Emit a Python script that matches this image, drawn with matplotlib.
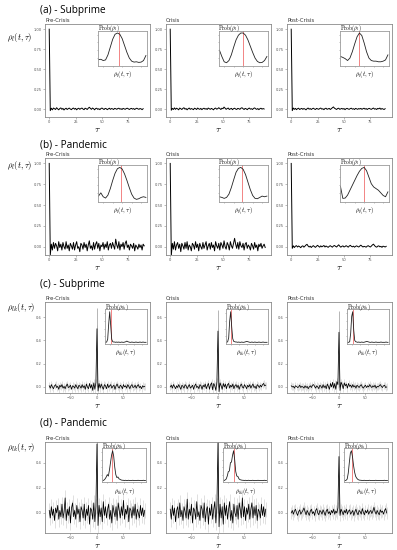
import numpy as np
import matplotlib.pyplot as plt

plt.rcParams["mathtext.fontset"] = "cm"
plt.rcParams["font.family"] = ["DejaVu Sans"]

# === Data: autocorrelation (rows a, b), lags 0..90 ===
a_pre = [1.00, -0.02, 0.01, -0.01, 0.012, 0.004, -0.006, 0.016, 0.002, -0.01, 0.006, 0.014, -0.004, 0.008,
         -0.012, 0.002, 0.01, -0.006, 0.004, 0.012, 0.0, -0.008, 0.006, 0.012, -0.002, 0.008, -0.01, 0.004,
         0.01, -0.004, 0.006, 0.012, 0.0, -0.008, 0.01, 0.004, -0.006, 0.01, 0.022, 0.008, -0.004, 0.012,
         0.004, -0.01, 0.006, 0.01, -0.004, 0.004, -0.008, 0.006, 0.012, 0.002, -0.006, 0.008, 0.004, -0.008,
         0.002, 0.01, -0.004, 0.006, 0.002, -0.006, 0.008, 0.004, -0.004, 0.006, 0.01, -0.002, 0.004, -0.006,
         0.008, 0.002, -0.004, 0.006, 0.01, 0.002, -0.006, 0.004, 0.008, -0.002, 0.006, -0.006, 0.004, 0.01,
         0.002, -0.004, 0.006, 0.002, -0.008, 0.004]
a_cri = [1.00, -0.015, 0.008, -0.006, 0.014, -0.004, 0.01, 0.002, -0.01, 0.012, 0.004, -0.006, 0.008, 0.016,
         -0.002, 0.006, -0.01, 0.004, 0.012, -0.004, 0.006, 0.0, -0.008, 0.01, 0.004, -0.006, 0.012, 0.002,
         -0.004, 0.008, -0.008, 0.004, 0.01, -0.002, 0.006, -0.006, 0.012, 0.004, -0.004, 0.008, 0.0, -0.01,
         0.006, 0.012, -0.002, 0.004, 0.016, 0.006, -0.006, 0.01, 0.004, 0.024, 0.01, -0.004, 0.006, 0.012,
         -0.006, 0.002, 0.008, -0.008, 0.004, 0.01, 0.0, -0.006, 0.008, 0.004, -0.004, 0.01, 0.016, 0.004,
         -0.006, 0.008, 0.002, -0.008, 0.006, 0.012, -0.002, 0.004, -0.006, 0.008, 0.014, 0.002, -0.004, 0.006,
         -0.008, 0.004, 0.01, -0.002, 0.006, 0.0]
a_post = [1.00, -0.02, 0.012, -0.004, 0.008, -0.008, 0.004, 0.01, -0.006, 0.002, 0.008, -0.004, 0.006, 0.0,
          -0.01, 0.004, 0.012, -0.002, 0.006, -0.006, 0.004, 0.01, 0.0, -0.006, 0.008, 0.002, -0.004, 0.006,
          0.012, -0.002, 0.004, -0.008, 0.006, 0.01, -0.004, 0.002, 0.008, -0.006, 0.004, 0.016, 0.026, 0.01,
          0.002, -0.006, 0.006, 0.01, -0.004, 0.002, 0.008, -0.002, 0.006, -0.008, 0.004, 0.008, 0.0, -0.004,
          0.006, 0.01, -0.002, 0.004, -0.006, 0.008, 0.002, -0.004, 0.006, 0.0, 0.008, -0.004, 0.004, 0.01,
          -0.002, 0.006, -0.006, 0.004, 0.008, 0.0, -0.004, 0.006, 0.012, -0.002, 0.004, -0.006, 0.008, 0.002,
          0.012, -0.004, 0.006, 0.0, -0.006, 0.004]
b_pre = [1.00, -0.10, 0.03, -0.04, 0.05, -0.02, 0.04, 0.01, -0.05, 0.06, -0.01, 0.03, -0.04, 0.05, 0.0, -0.03,
         0.06, -0.02, 0.02, -0.05, 0.04, 0.01, -0.03, 0.05, -0.04, 0.02, 0.06, -0.02, 0.0, -0.06, 0.04, 0.02,
         -0.03, 0.05, -0.01, 0.03, -0.05, 0.02, 0.07, -0.02, 0.01, -0.04, 0.05, -0.03, 0.03, 0.06, -0.02, 0.04,
         -0.05, 0.02, 0.0, 0.05, -0.03, 0.03, -0.01, 0.06, -0.04, 0.02, 0.04, -0.02, 0.05, 0.01, -0.03, 0.09,
         0.02, -0.02, 0.06, -0.04, 0.03, 0.0, 0.05, -0.03, 0.04, 0.07, -0.01, 0.02, -0.04, 0.03, 0.01, -0.02,
         0.04, -0.05, 0.02, 0.0, -0.03, 0.03, -0.01, 0.02, -0.04, 0.03, 0.01]
b_cri = [1.00, -0.11, 0.04, -0.03, 0.06, -0.04, 0.02, 0.05, -0.02, 0.03, -0.06, 0.04, 0.01, -0.03, 0.05, -0.02,
         0.06, -0.04, 0.02, 0.0, -0.05, 0.04, 0.02, -0.03, 0.06, -0.01, 0.03, -0.05, 0.04, 0.0, -0.03, 0.05,
         -0.02, 0.02, 0.06, -0.04, 0.01, 0.04, -0.03, 0.05, -0.01, 0.02, -0.05, 0.06, 0.01, -0.02, 0.04, -0.04,
         0.05, 0.02, -0.02, 0.07, 0.0, -0.03, 0.05, 0.02, -0.04, 0.06, 0.01, -0.02, 0.04, 0.10, 0.03, -0.02,
         0.05, -0.03, 0.06, 0.01, -0.01, 0.04, -0.04, 0.03, 0.05, -0.02, 0.02, 0.0, -0.04, 0.04, 0.01, -0.03,
         0.05, -0.01, 0.02, -0.05, 0.03, 0.0, 0.04, -0.02, 0.01, 0.03, -0.01]
b_post = [1.00, -0.02, 0.01, -0.01, 0.006, 0.012, -0.004, 0.008, 0.0, -0.012, 0.004, 0.01, -0.006, 0.006, 0.02,
          0.028, 0.008, -0.004, 0.006, -0.01, 0.004, 0.012, 0.0, -0.008, 0.006, 0.016, 0.004, -0.006, 0.01,
          -0.002, 0.006, 0.014, -0.004, 0.008, 0.0, -0.008, 0.004, 0.012, 0.002, -0.006, 0.008, 0.014, 0.004,
          -0.004, 0.01, 0.022, 0.006, -0.006, 0.004, 0.01, -0.004, 0.002, 0.012, 0.004, -0.006, 0.008, 0.016,
          0.004, -0.002, 0.006, -0.006, 0.004, 0.01, 0.002, -0.004, 0.008, 0.018, 0.006, -0.004, 0.004, 0.0,
          -0.006, 0.006, 0.012, 0.002, -0.004, 0.008, 0.022, 0.03, 0.012, 0.0, -0.006, 0.006, 0.01, -0.002,
          0.004, -0.008, 0.006, 0.002, -0.004, 0.004]

# === Data: cross-correlation (rows c, d), lags +-2..90 step 2, plus lag 0 ===
c_pre_neg = [0.01, -0.01, 0.02, 0.0, -0.015, 0.01, 0.02, -0.005, 0.005, -0.02, 0.015, 0.0, 0.02, -0.01, 0.005,
             -0.015, 0.01, 0.025, -0.005, 0.0, 0.015, -0.02, 0.01, 0.005, -0.01, 0.02, 0.0, -0.015, 0.015, 0.005,
             -0.01, 0.02, -0.005, 0.01, -0.02, 0.025, 0.0, -0.015, 0.03, -0.01, 0.02, -0.03, 0.035, -0.02, 0.04]
c_pre_zero = 0.50
c_pre_pos = [-0.035, 0.03, -0.01, 0.025, 0.0, -0.02, 0.02, 0.01, -0.015, 0.025, -0.005, 0.01, 0.02, -0.01, 0.005,
             0.015, -0.02, 0.01, 0.025, 0.0, -0.01, 0.015, 0.005, -0.015, 0.02, 0.0, 0.01, -0.01, 0.02, 0.005,
             -0.015, 0.01, 0.02, -0.005, 0.0, 0.015, -0.01, 0.01, 0.02, -0.005, 0.005, -0.015, 0.01, 0.0, 0.005]
c_cri_neg = [0.0, 0.015, -0.01, 0.02, 0.005, -0.015, 0.01, -0.005, 0.02, 0.0, -0.02, 0.015, 0.005, -0.01, 0.02,
             0.01, -0.015, 0.005, 0.02, -0.01, 0.0, 0.015, -0.02, 0.01, 0.025, -0.005, 0.005, -0.015, 0.02, 0.01,
             -0.02, 0.015, 0.0, 0.025, -0.015, 0.01, 0.03, -0.02, 0.02, 0.035, -0.025, 0.03, 0.01, -0.03, 0.045]
c_cri_zero = 0.48
c_cri_pos = [-0.04, 0.035, 0.01, -0.02, 0.03, 0.0, 0.025, -0.015, 0.02, 0.03, -0.01, 0.015, 0.0, 0.025, -0.015,
             0.01, 0.02, -0.005, 0.015, -0.02, 0.01, 0.025, 0.0, -0.01, 0.02, 0.005, -0.015, 0.015, 0.0, 0.02,
             -0.01, 0.01, 0.025, -0.005, 0.005, -0.015, 0.02, 0.01, -0.005, 0.015, 0.0, 0.02, 0.03, 0.01, 0.015]
c_post_neg = [0.01, 0.0, 0.005, -0.01, 0.01, 0.005, -0.005, 0.0, 0.015, -0.005, 0.005, 0.0, -0.01, 0.01, -0.005,
              0.005, -0.015, 0.0, 0.01, -0.005, 0.015, 0.02, 0.005, -0.01, 0.01, 0.0, -0.015, 0.015, 0.005, -0.01,
              0.02, -0.005, 0.01, -0.015, 0.025, 0.005, -0.02, 0.03, 0.0, 0.04, -0.01, 0.03, -0.02, 0.045, 0.02]
c_post_zero = 0.47
c_post_pos = [-0.03, 0.04, 0.02, -0.015, 0.035, 0.01, 0.025, -0.01, 0.03, 0.005, 0.015, -0.005, 0.02, 0.0, 0.01,
              -0.01, 0.015, 0.005, -0.005, 0.01, 0.02, 0.0, -0.01, 0.005, 0.015, -0.005, 0.01, 0.0, 0.02, 0.005,
              -0.005, 0.01, 0.0, 0.015, -0.01, 0.005, 0.0, 0.01, 0.02, 0.005, -0.005, 0.01, 0.015, -0.005, 0.0]
d_pre_neg = [0.02, -0.04, 0.05, -0.02, 0.03, -0.06, 0.04, 0.0, 0.06, -0.05, 0.02, -0.03, 0.07, -0.04, 0.01,
             0.12, -0.06, 0.03, -0.02, 0.05, -0.08, 0.04, 0.08, -0.03, 0.02, -0.05, 0.06, -0.01, 0.03, -0.07,
             0.05, 0.02, -0.04, 0.07, -0.06, 0.03, -0.02, 0.06, -0.09, 0.04, 0.02, -0.05, 0.08, -0.07, 0.05]
d_pre_zero = 0.55
d_pre_pos = [-0.10, 0.06, -0.03, 0.04, -0.07, 0.09, -0.02, 0.05, -0.04, 0.03, 0.07, -0.05, 0.02, -0.08, 0.06,
             0.01, -0.03, 0.05, -0.06, 0.08, 0.02, -0.04, 0.05, -0.02, 0.1, -0.05, 0.03, -0.01, 0.06, -0.07,
             0.04, 0.02, -0.04, 0.05, -0.02, 0.07, -0.05, 0.03, 0.0, -0.04, 0.06, -0.02, 0.04, -0.03, 0.02]
d_cri_neg = [0.03, -0.05, 0.06, -0.02, 0.04, -0.07, 0.02, 0.05, -0.04, 0.08, -0.03, 0.02, -0.06, 0.05, 0.01,
             -0.04, 0.11, -0.05, 0.03, -0.02, 0.07, -0.08, 0.04, 0.02, -0.05, 0.09, -0.03, 0.01, -0.06, 0.06,
             0.03, -0.04, 0.08, -0.07, 0.02, 0.05, -0.09, 0.04, -0.02, 0.07, -0.05, 0.03, 0.09, -0.08, 0.06]
d_cri_zero = 0.56
d_cri_pos = [-0.11, 0.07, -0.04, 0.05, -0.09, 0.08, -0.02, 0.06, -0.05, 0.03, 0.09, -0.06, 0.02, -0.08, 0.07,
             0.0, -0.03, 0.06, -0.05, 0.08, 0.03, -0.04, 0.12, -0.03, 0.05, -0.06, 0.04, -0.01, 0.07, -0.05,
             0.03, 0.08, -0.04, 0.05, -0.02, 0.06, -0.06, 0.03, 0.01, -0.04, 0.07, -0.02, 0.05, -0.03, 0.03]
d_post_neg = [0.0, 0.02, -0.01, 0.015, 0.03, 0.0, -0.02, 0.01, 0.025, -0.01, 0.005, 0.02, 0.04, 0.01, -0.015,
              0.02, 0.0, -0.02, 0.015, 0.03, -0.005, 0.01, -0.02, 0.02, 0.035, 0.0, -0.015, 0.02, 0.01, -0.01,
              0.025, 0.005, -0.02, 0.015, 0.03, -0.005, 0.01, -0.015, 0.02, 0.0, 0.03, -0.01, 0.015, 0.0, 0.04]
d_post_zero = 0.45
d_post_pos = [-0.02, 0.03, 0.01, -0.015, 0.02, 0.0, 0.03, -0.01, 0.015, 0.025, -0.01, 0.005, 0.02, -0.02, 0.01,
              0.03, 0.0, -0.015, 0.02, 0.01, -0.01, 0.035, 0.005, -0.015, 0.02, 0.0, 0.025, -0.01, 0.01, 0.02,
              -0.005, 0.015, 0.045, 0.01, -0.01, 0.02, 0.0, -0.015, 0.025, 0.005, 0.015, -0.01, 0.02, 0.035, 0.0]
cd_err = [0.03, 0.03, 0.03, 0.06, 0.06, 0.045]

# === Data: inset densities (normalised x from 0 to 1) ===
a_pre_den = [0.15, 0.16, 0.12, 0.14, 0.3, 0.55, 0.8, 0.96, 1.0, 0.96, 0.82, 0.6, 0.38, 0.2, 0.1, 0.07, 0.08,
             0.06, 0.07, 0.12, 0.28]
a_cri_den = [0.45, 0.25, 0.08, 0.05, 0.12, 0.3, 0.55, 0.78, 0.93, 1.0, 1.0, 0.93, 0.78, 0.58, 0.38, 0.2, 0.09,
             0.05, 0.06, 0.12, 0.25]
a_post_den = [0.25, 0.22, 0.18, 0.12, 0.2, 0.4, 0.65, 0.88, 1.0, 0.92, 0.68, 0.4, 0.2, 0.12, 0.1, 0.1, 0.08,
              0.08, 0.1, 0.14, 0.3]
b_pre_den = [0.12, 0.22, 0.1, 0.06, 0.15, 0.35, 0.6, 0.82, 0.96, 1.0, 0.95, 0.8, 0.6, 0.38, 0.18, 0.06, 0.02,
             0.04, 0.08, 0.1, 0.08]
b_cri_den = [0.1, 0.08, 0.05, 0.08, 0.18, 0.38, 0.62, 0.85, 0.97, 1.0, 0.94, 0.78, 0.55, 0.32, 0.14, 0.05, 0.04,
             0.08, 0.12, 0.1, 0.12]
b_post_den = [0.42, 0.05, 0.06, 0.15, 0.3, 0.45, 0.6, 0.75, 0.88, 0.97, 1.0, 0.9, 0.7, 0.5, 0.4, 0.35, 0.3,
              0.22, 0.14, 0.1, 0.25]
c_pre_den = [0.0, 0.01, 0.1, 0.6, 1.0, 0.55, 0.1, 0.02, 0.01, 0.01, 0.0, 0.01, 0.0, 0.01, 0.0, 0.0, 0.01, 0.0,
             0.0, 0.01, 0.02, 0.04, 0.02, 0.01, 0.0, 0.0, 0.01, 0.0, 0.0, 0.0, 0.01, 0.0, 0.0, 0.0, 0.01, 0.0,
             0.0, 0.01, 0.0, 0.0, 0.0]
c_cri_den = [0.0, 0.02, 0.15, 0.7, 1.0, 0.5, 0.12, 0.03, 0.02, 0.01, 0.01, 0.0, 0.01, 0.0, 0.0, 0.01, 0.0, 0.0,
             0.01, 0.02, 0.03, 0.02, 0.01, 0.0, 0.0, 0.01, 0.0, 0.0, 0.01, 0.0, 0.0, 0.0, 0.01, 0.0, 0.0, 0.0,
             0.01, 0.0, 0.0, 0.0, 0.0]
c_post_den = [0.0, 0.0, 0.02, 0.3, 0.85, 1.0, 0.4, 0.06, 0.02, 0.01, 0.0, 0.01, 0.0, 0.0, 0.01, 0.0, 0.0, 0.01,
              0.02, 0.03, 0.02, 0.01, 0.0, 0.0, 0.01, 0.0, 0.0, 0.0, 0.01, 0.0, 0.0, 0.0, 0.0, 0.01, 0.0, 0.0,
              0.0, 0.0, 0.01, 0.0, 0.0]
d_pre_den = [0.0, 0.02, 0.06, 0.12, 0.2, 0.15, 0.35, 0.6, 0.85, 1.0, 0.82, 0.45, 0.2, 0.1, 0.12, 0.06, 0.04, 0.02,
             0.01, 0.01, 0.0, 0.01, 0.0, 0.0, 0.01, 0.0, 0.0, 0.0, 0.01, 0.0, 0.0, 0.0, 0.0, 0.01, 0.0, 0.0, 0.0,
             0.0, 0.01, 0.0, 0.0]
d_cri_den = [0.0, 0.02, 0.05, 0.15, 0.3, 0.32, 0.6, 0.62, 0.85, 1.0, 0.7, 0.3, 0.15, 0.14, 0.06, 0.03, 0.02, 0.01,
             0.01, 0.0, 0.01, 0.0, 0.0, 0.01, 0.0, 0.0, 0.0, 0.01, 0.0, 0.0, 0.0, 0.0, 0.01, 0.0, 0.0, 0.0, 0.0,
             0.0, 0.01, 0.0, 0.0]
d_post_den = [0.0, 0.01, 0.05, 0.25, 0.6, 0.92, 1.0, 0.8, 0.5, 0.28, 0.14, 0.08, 0.04, 0.02, 0.01, 0.01, 0.0,
              0.0, 0.01, 0.0, 0.0, 0.0, 0.0, 0.01, 0.0, 0.0, 0.0, 0.0, 0.0, 0.01, 0.0, 0.0, 0.0, 0.0, 0.0, 0.0,
              0.0, 0.01, 0.0, 0.0, 0.0]
red_pos = [0.44, 0.5, 0.4, 0.48, 0.47, 0.49, 0.12, 0.11, 0.13, 0.22, 0.23, 0.17]

periods = ["Pre-Crisis", "Crisis", "Post-Crisis"]
row_titles = ["(a) - Subprime", "(b) - Pandemic", "(c) - Subprime", "(d) - Pandemic"]

W, H = 397, 550
fig = plt.figure(figsize=(W / 100, H / 100), dpi=100)


def px_axes(l, t, r, b):
    return fig.add_axes([l / W, 1 - b / H, (r - l) / W, (b - t) / H])


def style(ax, edge="#8a8a8a"):
    for s in ax.spines.values():
        s.set_color(edge)
        s.set_linewidth(0.6)
    ax.tick_params(length=1.5, width=0.4, color="#888888", labelsize=2.6, labelcolor="#555555", pad=1)


col_left = [45, 166, 287]
col_w = 105
row_box = [(24, 117), (158, 255), (302, 393), (442, 533)]
title_y = [10, 145, 285, 423]
ylab_y = [38, 165, 308, 447]

auto = [[a_pre, a_cri, a_post], [b_pre, b_cri, b_post]]
cross = [[(c_pre_neg, c_pre_zero, c_pre_pos), (c_cri_neg, c_cri_zero, c_cri_pos),
          (c_post_neg, c_post_zero, c_post_pos)],
         [(d_pre_neg, d_pre_zero, d_pre_pos), (d_cri_neg, d_cri_zero, d_cri_pos),
          (d_post_neg, d_post_zero, d_post_pos)]]
dens = [[a_pre_den, a_cri_den, a_post_den], [b_pre_den, b_cri_den, b_post_den],
        [c_pre_den, c_cri_den, c_post_den], [d_pre_den, d_cri_den, d_post_den]]

for r in range(4):
    top, bot = row_box[r]
    fig.text(40 / W, 1 - title_y[r] / H, row_titles[r], fontsize=7.2, family="Open Sans",
             va="center", ha="left")
    sub = "l" if r < 2 else "lk"
    fig.text(7 / W, 1 - ylab_y[r] / H, r"$\rho_{%s}(t,\tau)$" % sub, fontsize=6.2, va="center", ha="left")
    for c in range(3):
        ax = px_axes(col_left[c], top, col_left[c] + col_w, bot)
        style(ax)
        if r < 2:
            y = np.array(auto[r][c])
            x = np.arange(len(y))
            ax.plot(x, y, color="black", lw=0.7)
            ax.set_xlim(-4, 95.5)
            ax.set_ylim(-0.1, 1.065)
            ax.set_xticks([0, 25, 50, 75])
            ax.set_yticks([0, 0.25, 0.5, 0.75, 1.0])
            ax.set_yticklabels(["0.00", "0.25", "0.50", "0.75", "1.00"])
        else:
            neg, zero, pos = cross[r - 2][c]
            y = np.array(neg + [zero] + pos)
            x = np.concatenate([-2 * np.arange(len(neg), 0, -1), [0], 2 * np.arange(1, len(pos) + 1)])
            e = cd_err[(r - 2) * 3 + c]
            ax.vlines(x, y - e, y + e, color="#c8c8c8", lw=0.4)
            ax.vlines([0], [0], [zero + 0.18], color="#999999", lw=0.5)
            ax.plot(x, y, color="black", lw=0.55)
            ax.set_xlim(-98, 100)
            ax.set_xticks([-50, 0, 50])
            if r == 2:
                ax.set_ylim(-0.052, 0.73)
                ax.set_yticks([0, 0.2, 0.4, 0.6])
            else:
                ax.set_ylim(-0.16, 0.566)
                ax.set_yticks([0, 0.2, 0.4])
        ax.set_title(periods[c], loc="left", fontsize=3.8, color="#333333", pad=1.5)
        ax.set_xlabel(r"$\tau$", fontsize=7, labelpad=0)

        # inset density
        if r < 2:
            ins = ax.inset_axes([0.5, 0.55, 0.47, 0.38])
        elif r == 2:
            ins = ax.inset_axes([0.57, 0.54, 0.4, 0.38])
        else:
            ins = ax.inset_axes([0.545, 0.56, 0.42, 0.37])
        d = np.array(dens[r][c])
        xd = np.linspace(0, 1, len(d))
        style(ins, edge="#9a9a9a")
        ins.tick_params(length=1.0, labelleft=False, labelbottom=False)
        ins.axvline(red_pos[r * 3 + c], color="#f07070", lw=0.6)
        ins.plot(xd, d, color="#222222", lw=0.6)
        ins.set_xlim(-0.02, 1.02)
        ins.set_ylim(-0.05, 1.08)
        ins.set_xticks([0.1, 0.3, 0.5, 0.7, 0.9])
        ins.set_yticks([0.2, 0.45, 0.7, 0.95])
        ins.set_title(r"$\mathrm{Prob}(\rho_{%s})$" % sub, loc="left", fontsize=4, pad=0.5)
        ins.set_xlabel(r"$\rho_{%s}(t,\tau)$" % sub, fontsize=4.5, labelpad=1.5)

fig.savefig("out.png", dpi=100, facecolor="white")
